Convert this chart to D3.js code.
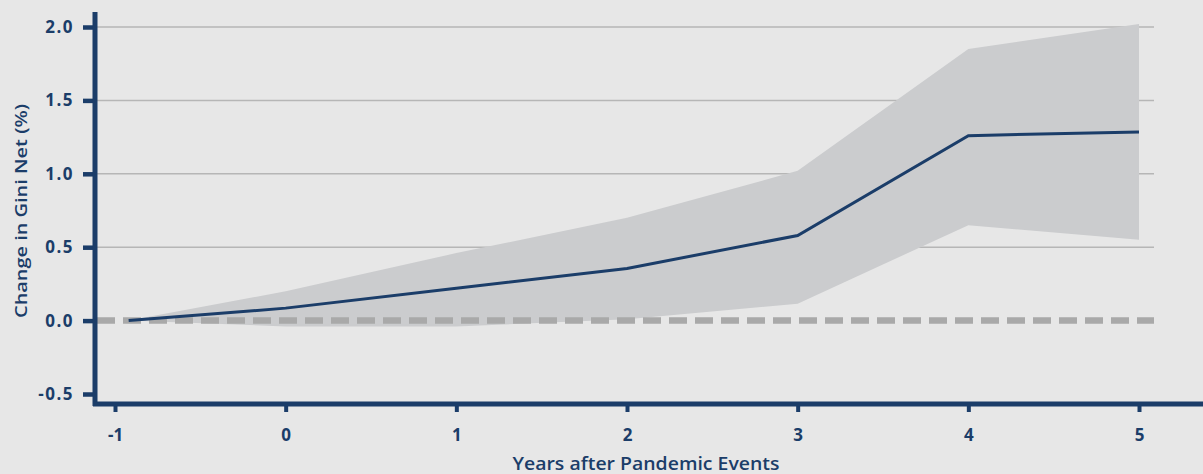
<!DOCTYPE html>
<html>
<head>
<meta charset="utf-8">
<title>Change in Gini Net</title>
<script src="https://d3js.org/d3.v7.min.js"></script>
<style>
    body { margin: 0; background: #e7e7e7; }
    svg { display: block; }
    text { font-family: "Open Sans", sans-serif; fill: #1b3d69; }
</style>
</head>
<body>
<div id="chart"></div>
<script>
    // values
    var years = [-0.92, 0, 1, 2, 3, 4, 5];
    var estimate = [0, 0.085, 0.22, 0.355, 0.58, 1.26, 1.285];
    var upper = [0, 0.2, 0.46, 0.70, 1.02, 1.85, 2.02];
    var lower = [0, -0.04, -0.04, 0.01, 0.115, 0.65, 0.55];
    var xTicks = [-1, 0, 1, 2, 3, 4, 5];
    var yTicks = [-0.5, 0, 0.5, 1.0, 1.5, 2.0];

    var width = 1203, height = 474;
    var navy = "#1b3d69";
    var tickFont = "DejaVu Sans, sans-serif";

    var x = d3.scaleLinear().domain([-1, 5]).range([115, 1139]);
    var y = d3.scaleLinear().domain([-0.5, 2.0]).range([394, 27]);

    var data = years.map(function(d, i) {
        return { x: d, y: estimate[i], lo: lower[i], hi: upper[i] };
    });

    var svg = d3.select("#chart").append("svg")
        .attr("width", width)
        .attr("height", height);

    svg.append("rect").attr("width", width).attr("height", height).attr("fill", "#e7e7e7");

    // gridlines
    svg.append("g").selectAll("line")
        .data(yTicks.filter(function(d) { return d > 0; }))
        .enter().append("line")
        .attr("x1", 97).attr("x2", 1154)
        .attr("y1", function(d) { return y(d); })
        .attr("y2", function(d) { return y(d); })
        .attr("stroke", "#b6b6b6")
        .attr("stroke-width", 1.5);

    // confidence band
    var area = d3.area()
        .x(function(d) { return x(d.x); })
        .y0(function(d) { return y(d.lo); })
        .y1(function(d) { return y(d.hi); });

    svg.append("path")
        .datum(data)
        .attr("d", area)
        .attr("fill", "#cbccce");

    // zero reference
    svg.append("line")
        .attr("x1", 97).attr("x2", 1154)
        .attr("y1", y(0)).attr("y2", y(0))
        .attr("stroke", "#a9a9a9")
        .attr("stroke-width", 6.5)
        .attr("stroke-dasharray", "18,8");

    // estimate line
    var line = d3.line()
        .x(function(d) { return x(d.x); })
        .y(function(d) { return y(d.y); });

    svg.append("path")
        .datum(data)
        .attr("d", line)
        .attr("fill", "none")
        .attr("stroke", navy)
        .attr("stroke-width", 3);

    // axes (hyphen as minus, like the original)
    var fmtX = function(d) { return String(d).replace("\u2212", "-"); };
    var fmtY = function(d) { return d3.format(".1f")(d).replace("\u2212", "-"); };

    var xAxis = d3.axisBottom(x).tickValues(xTicks).tickSize(7).tickPadding(17).tickFormat(fmtX);
    var gx = svg.append("g").attr("transform", "translate(0,405)").call(xAxis);
    gx.select(".domain").remove();
    gx.selectAll(".tick line").attr("stroke", navy).attr("stroke-width", 4);
    gx.selectAll(".tick text").attr("font-size", 17).attr("font-weight", "bold").attr("fill", navy)
        .attr("font-family", tickFont);

    var yAxis = d3.axisLeft(y).tickValues(yTicks).tickSize(12).tickPadding(9).tickFormat(fmtY);
    var gy = svg.append("g").attr("transform", "translate(95,0)").call(yAxis);
    gy.select(".domain").remove();
    gy.selectAll(".tick line").attr("stroke", navy).attr("stroke-width", 4.5);
    gy.selectAll(".tick text").attr("font-size", 17).attr("font-weight", "bold").attr("fill", navy)
        .attr("font-family", tickFont).attr("letter-spacing", 1.5);

    svg.append("line")
        .attr("x1", 95).attr("x2", 95).attr("y1", 12).attr("y2", 406)
        .attr("stroke", navy).attr("stroke-width", 5);
    svg.append("line")
        .attr("x1", 93).attr("x2", width).attr("y1", 404).attr("y2", 404)
        .attr("stroke", navy).attr("stroke-width", 5);

    // titles
    svg.append("text")
        .attr("x", 646).attr("y", 470)
        .attr("text-anchor", "middle")
        .attr("font-size", 17.5).attr("font-weight", 600)
        .attr("textLength", 267).attr("lengthAdjust", "spacingAndGlyphs")
        .text("Years after Pandemic Events");

    svg.append("text")
        .attr("transform", "translate(27,211) rotate(-90)")
        .attr("text-anchor", "middle")
        .attr("font-size", 16.5).attr("font-weight", 600)
        .attr("textLength", 214).attr("lengthAdjust", "spacingAndGlyphs")
        .text("Change in Gini Net (%)");
</script>
</body>
</html>
